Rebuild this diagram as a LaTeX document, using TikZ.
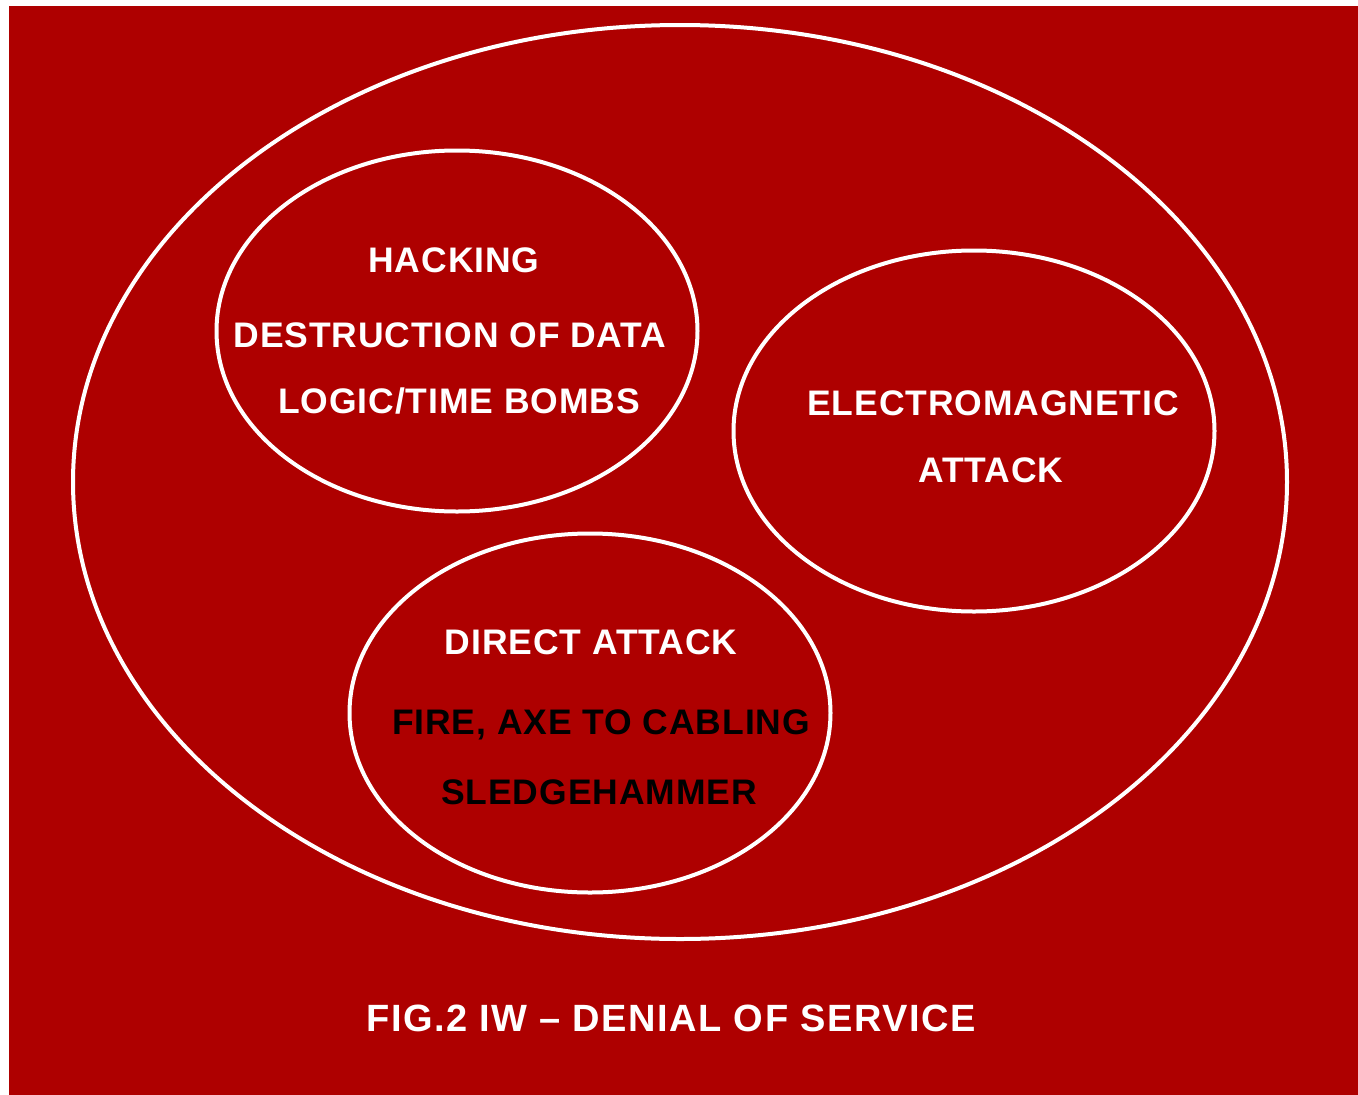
\documentclass[tikz,border=0pt]{standalone}
\usepackage{fontspec}
\setmainfont{Liberation Sans}
\newfontfamily\labelfont[LetterSpace=2.5]{Liberation Sans}
\newfontfamily\captionfont[LetterSpace=4]{Liberation Sans}
\usetikzlibrary{shapes.geometric}
\definecolor{bgred}{RGB}{174,0,0}
\begin{document}
\begin{tikzpicture}[x=1pt,y=-1pt,
  ring/.style={ellipse,draw=white,line width=4pt,inner sep=0pt},
  lbl/.style={anchor=base,font=\labelfont\fontsize{35.5}{35.5}\selectfont\bfseries,text=white,inner sep=0pt},
  dark/.style={lbl,text=black}]
\useasboundingbox (0,0) rectangle (1358,1095);
\fill[white] (0,0) rectangle (1358,1095);
\fill[bgred] (9,6) rectangle (1358,1095);
% outer set and the three attack categories
\node[ring,minimum width=1214pt,minimum height=914pt] (outer) at (680,482) {};
\node[ring,minimum width=481pt,minimum height=361pt] (hack) at (457,331) {};
\node[ring,minimum width=481pt,minimum height=361pt] (em) at (974,431) {};
\node[ring,minimum width=481pt,minimum height=359pt] (direct) at (590,713) {};
% labels
\node[lbl] (t1) at (454,272) {HACKING};
\node[lbl] (t2) at (450,347) {DESTRUCTION OF DATA};
\node[lbl] (t3) at (459,413) {LOGIC/TIME BOMBS};
\node[lbl] (t4) at (993,415) {ELECTROMAGNETIC};
\node[lbl] (t5) at (991,482) {ATTACK};
\node[lbl] (t6) at (591,654) {DIRECT ATTACK};
\node[dark] (t7) at (601,734) {FIRE, AXE TO CABLING};
\node[dark] (t8) at (599,804) {SLEDGEHAMMER};
\node[lbl,font=\captionfont\fontsize{38}{38}\selectfont\bfseries] (cap) at (671,1031) {FIG.2 IW – DENIAL OF SERVICE};
\end{tikzpicture}
\end{document}
